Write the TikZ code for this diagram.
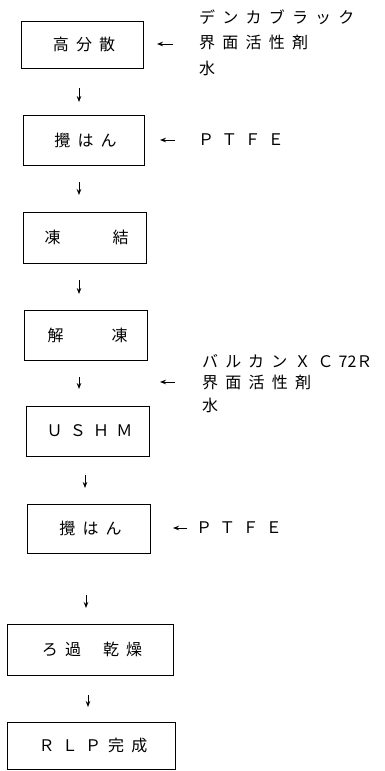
\documentclass[tikz,border=0pt]{standalone}
\usepackage{fontspec}
\newfontfamily\jp[LetterSpace=45]{Noto Sans CJK JP}
\newfontfamily\jpn{Noto Sans CJK JP}
\usetikzlibrary{arrows.meta}
\begin{document}
\begin{tikzpicture}[x=1pt,y=-1pt,
  box/.style={draw, line width=0.8pt, inner sep=0pt, font=\jp\fontsize{16}{19}\selectfont},
  lbl/.style={anchor=west, inner sep=0pt, font=\jp\fontsize{16}{19}\selectfont},
  arr/.style={-{Stealth[length=6pt,width=4.6pt]}, line width=1pt}]
\useasboundingbox (0,0) rectangle (384,771);
% process boxes
\node[box, minimum width=122pt, minimum height=47pt] (b1) at (82,44.5) {\hspace{4pt}高分散};
\node[box, minimum width=121pt, minimum height=50pt] (b2) at (83.5,140) {\hspace{4pt}攪はん};
\node[box, minimum width=123pt, minimum height=51pt] (b3) at (84.5,237.5) {\hspace{4pt}凍\hspace{52pt}結};
\node[box, minimum width=123pt, minimum height=50pt] (b4) at (85.5,335) {\hspace{4pt}解\hspace{48pt}凍};
\node[box, minimum width=123pt, minimum height=50pt] (b5) at (87.5,431) {\hspace{4pt}ＵＳＨＭ};
\node[box, minimum width=123pt, minimum height=49pt] (b6) at (88.5,528.5) {\hspace{4pt}攪はん};
\node[box, minimum width=166pt, minimum height=51pt] (b7) at (90,649.5) {\hspace{4pt}ろ過\hspace{22pt}乾燥};
\node[box, minimum width=168pt, minimum height=47.5pt] (b8) at (91,745.75) {\hspace{4pt}ＲＬＰ完成};
% side labels
\node[lbl] (t1a) at (199,17) {デンカブラック};
\node[lbl] (t1b) at (199,42) {界面活性剤};
\node[lbl] (t1c) at (199,68) {水};
\node[lbl] (t2) at (198,140) {ＰＴＦＥ};
\node[lbl] (t4a) at (202,361) {バルカンＸＣ\hspace{5pt}{\jpn 72}Ｒ};
\node[lbl] (t4b) at (202,382) {界面活性剤};
\node[lbl] (t4c) at (202,405) {水};
\node[lbl] (t6) at (196,528) {ＰＴＦＥ};
% side arrows
\coordinate (s1s) at (173,44); \coordinate (s1e) at (157,44);
\coordinate (s2s) at (175,140); \coordinate (s2e) at (160,140);
\coordinate (s4s) at (175,382); \coordinate (s4e) at (160,382);
\coordinate (s6s) at (187,528); \coordinate (s6e) at (173,528);
\draw[arr] (s1s) -- (s1e);
\draw[arr] (s2s) -- (s2e);
\draw[arr] (s4s) -- (s4e);
\draw[arr] (s6s) -- (s6e);
% down arrows
\coordinate (d1s) at (79,88);  \coordinate (d1e) at (79,102);
\coordinate (d2s) at (79,182); \coordinate (d2e) at (79,195);
\coordinate (d3s) at (79,280); \coordinate (d3e) at (79,294);
\coordinate (d4s) at (79,377); \coordinate (d4e) at (79,389);
\coordinate (d5s) at (85,475); \coordinate (d5e) at (85,488);
\coordinate (d6s) at (86,595); \coordinate (d6e) at (86,608);
\coordinate (d7s) at (88,695); \coordinate (d7e) at (88,707);
\foreach \i in {1,...,7} {\draw[arr] (d\i s) -- (d\i e);}
\end{tikzpicture}
\end{document}
